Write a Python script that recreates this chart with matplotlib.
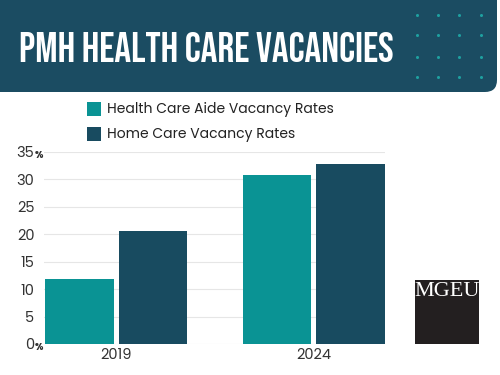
import matplotlib.pyplot as plt
from matplotlib.patches import FancyBboxPatch, Rectangle
import matplotlib.transforms as mtransforms
import numpy as np

years = ["2019", "2024"]
aide_rates = [11.8, 30.7]
home_rates = [20.6, 32.8]
series_labels = ["Health Care Aide Vacancy Rates", "Home Care Vacancy Rates"]
y_ticks = [0, 5, 10, 15, 20, 25, 30, 35]

TEAL = "#0a9394"
DARK = "#184b60"
HEADER = "#1b4c62"
DOT = "#1fa0a0"
TITLE_FONT = ["Bebas Neue", "Anton", "Oswald", "DejaVu Sans"]
BODY_FONT = ["Poppins", "DejaVu Sans"]

fig = plt.figure(figsize=(5, 3.75), dpi=100)
fig.patch.set_facecolor("white")

# overlay in pixel coordinates for header, legend, logo
ov = fig.add_axes([0, 0, 1, 1], zorder=0)
ov.set_xlim(0, 500)
ov.set_ylim(375, 0)
ov.axis("off")

ov.add_patch(FancyBboxPatch((-20, -40), 517, 132, boxstyle="round,pad=0,rounding_size=12",
                            color=HEADER, lw=0))
for dx in [417, 438, 459, 481]:
    for dy in [15, 35, 57, 77]:
        ov.plot(dx, dy, "o", ms=2.2, color=DOT, mec="none")

ov.text(19, 47, "PMH HEALTH CARE VACANCIES", color="white", fontsize=30,
        fontweight="bold", family=TITLE_FONT, ha="left", va="center")

# legend
for i, (lab, col) in enumerate(zip(series_labels, [TEAL, DARK])):
    y0 = 102 + i * 25
    ov.add_patch(Rectangle((87, y0), 14, 14, color=col, lw=0))
    ov.text(107, y0 + 7.5, lab, fontsize=10, color="#222222", family=BODY_FONT,
            ha="left", va="center")

# logo
ov.add_patch(Rectangle((415, 280), 64, 64, color="#231f20", lw=0))
ov.text(447.5, 291, "MGEU", color="white", fontsize=16, family=["Liberation Serif", "DejaVu Serif"],
        ha="center", va="center")

# chart
ax = fig.add_axes([0.088, 0.0827, 0.682, 0.5123], zorder=1)
ax.patch.set_alpha(0)
x = np.arange(len(years))
w = 0.347
off = 0.186
ax.bar(x - off, aide_rates, width=w, color=TEAL, zorder=3)
ax.bar(x + off, home_rates, width=w, color=DARK, zorder=3)
ax.set_xlim(-0.365, 1.362)
ax.set_ylim(0, 35)
ax.set_yticks(y_ticks)
ax.set_yticklabels([str(v) for v in y_ticks], fontsize=10.5, color="#333333", family=BODY_FONT)
ax.set_xticks(x)
ax.set_xticklabels(years, fontsize=10.5, color="#333333", family=BODY_FONT)
ax.tick_params(axis="y", length=0, pad=7)
ax.tick_params(axis="x", length=0, pad=3)
ax.grid(axis="y", color="#e6e6e6", lw=0.8, zorder=0)
for s in ax.spines.values():
    s.set_visible(False)

trans = mtransforms.blended_transform_factory(ax.transAxes, ax.transData)
shift = mtransforms.ScaledTranslation(0, -2.5 / 72, fig.dpi_scale_trans)
for v in [0, 35]:
    ax.text(-0.002, v, "%", fontsize=7, color="#333333", transform=trans + shift,
            family=BODY_FONT, ha="right", va="center", fontweight="bold")

fig.savefig("out.png", dpi=100, facecolor="white")
